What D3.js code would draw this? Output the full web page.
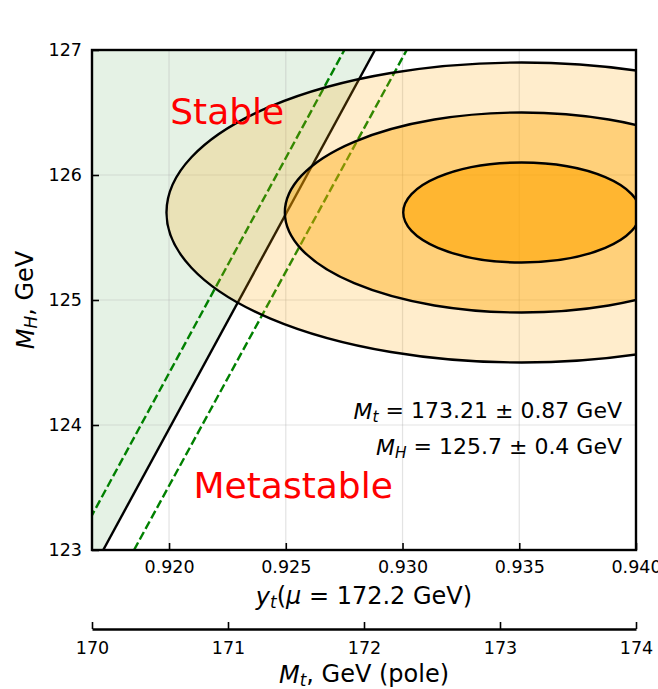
<!DOCTYPE html>
<html>
<head>
<meta charset="utf-8">
<script src="https://cdn.jsdelivr.net/npm/d3@7"></script>
<style>
  body { margin: 0; background: #fff; }
  text { font-family: "DejaVu Sans", sans-serif; }
</style>
</head>
<body>
<svg id="chart"></svg>
<script>
// data
const ytTicks = [0.920, 0.925, 0.930, 0.935, 0.940];
const mhTicks = [123, 124, 125, 126, 127];
const mtTicks = [170, 171, 172, 173, 174];

// stability boundary and its uncertainty band, as [yt, MH] end points
const boundary = [[0.91718, 123], [0.92882, 127]];
const boundaryLow = [[0.91589, 123], [0.92751, 127]];
const boundaryHigh = [[0.91850, 123], [0.93018, 127]];

// measured point and 1 sigma errors (in yt and MH)
const centre = { yt: 0.9351, mh: 125.7 };
const sigma = { yt: 0.00507, mh: 0.4 };
const nSigma = [3, 2, 1];
const sigmaAlpha = [0.2, 0.4, 0.6];

const width = 658;
const height = 689;
const margin = ({ top: 50, right: 22, bottom: 139, left: 92 });

const svg = d3.select("#chart")
    .attr("width", width)
    .attr("height", height);

// scales
let xScale = d3.scaleLinear()
    .domain([0.9167, 0.940])
    .range([margin.left, width - margin.right]);

let yScale = d3.scaleLinear()
    .domain([123, 127])
    .range([height - margin.bottom, margin.top]);

let mtScale = d3.scaleLinear()
    .domain([170, 174])
    .range([margin.left, width - margin.right]);

svg.append("clipPath").attr("id", "plotclip")
    .append("rect")
    .attr("x", margin.left).attr("y", margin.top)
    .attr("width", width - margin.left - margin.right)
    .attr("height", height - margin.top - margin.bottom);

const plot = svg.append("g").attr("clip-path", "url(#plotclip)");

// stable region, left of the boundary
const x0 = xScale.domain()[0];
plot.append("path")
    .attr("d", d3.line()([
        [xScale(x0), yScale(123)],
        [xScale(boundary[0][0]), yScale(boundary[0][1])],
        [xScale(boundary[1][0]), yScale(boundary[1][1])],
        [xScale(x0), yScale(127)]
    ]) + "Z")
    .attr("fill", "green")
    .attr("fill-opacity", 0.1);

// grid
plot.append("g")
    .selectAll("line")
    .data(ytTicks)
    .join("line")
    .attr("x1", d => xScale(d)).attr("x2", d => xScale(d))
    .attr("y1", margin.top).attr("y2", height - margin.bottom)
    .attr("stroke", "#b0b0b0").attr("stroke-opacity", 0.35).attr("stroke-width", 1.2);

plot.append("g")
    .selectAll("line")
    .data(mhTicks)
    .join("line")
    .attr("x1", margin.left).attr("x2", width - margin.right)
    .attr("y1", d => yScale(d)).attr("y2", d => yScale(d))
    .attr("stroke", "#b0b0b0").attr("stroke-opacity", 0.35).attr("stroke-width", 1.2);

const line = d3.line().x(d => xScale(d[0])).y(d => yScale(d[1]));

plot.append("path").attr("d", line(boundary))
    .attr("stroke", "black").attr("stroke-width", 2.4).attr("fill", "none");

plot.selectAll(".band")
    .data([boundaryLow, boundaryHigh])
    .join("path")
    .attr("d", d => line(d))
    .attr("stroke", "green").attr("stroke-width", 2.4)
    .attr("stroke-dasharray", "8.5,3.5").attr("fill", "none");

// sigma ellipses
plot.selectAll(".ell")
    .data(nSigma)
    .join("ellipse")
    .attr("cx", xScale(centre.yt))
    .attr("cy", yScale(centre.mh))
    .attr("rx", n => xScale(centre.yt + n * sigma.yt) - xScale(centre.yt))
    .attr("ry", n => yScale(centre.mh) - yScale(centre.mh + n * sigma.mh))
    .attr("fill", "orange")
    .attr("fill-opacity", (n, i) => sigmaAlpha[i])
    .attr("stroke", "black")
    .attr("stroke-width", 2.4);

// region labels
svg.append("text")
    .attr("x", xScale(0.92005)).attr("y", yScale(126.41))
    .attr("font-size", 36).attr("fill", "red")
    .text("Stable");

svg.append("text")
    .attr("x", xScale(0.92105)).attr("y", yScale(123.415))
    .attr("font-size", 36).attr("fill", "red")
    .text("Metastable");

// annotation
function mathText(g, parts) {
    parts.forEach(p => {
        const t = g.append("tspan").text(p.t);
        if (p.i) t.attr("font-style", "italic");
        if (p.sub) t.attr("font-size", "0.7em").attr("dy", "0.2em");
        if (p.up) t.attr("dy", "-0.2em");
    });
}

const ann1 = svg.append("text")
    .attr("x", 622).attr("y", 419)
    .attr("text-anchor", "end").attr("font-size", 22);
mathText(ann1, [
    { t: "M", i: true }, { t: "t", i: true, sub: true },
    { t: " = 173.21 ± 0.87 GeV", up: true }
]);

const ann2 = svg.append("text")
    .attr("x", 622).attr("y", 455)
    .attr("text-anchor", "end").attr("font-size", 22);
mathText(ann2, [
    { t: "M", i: true }, { t: "H", i: true, sub: true },
    { t: " = 125.7 ± 0.4 GeV", up: true }
]);

// axes
const xAxis = g => g
    .attr("transform", `translate(0,${height - margin.bottom})`)
    .call(d3.axisBottom(xScale).tickValues(ytTicks).tickFormat(d3.format(".3f"))
        .tickSizeInner(-7).tickSizeOuter(0).tickPadding(11))
    .call(g => g.select(".domain").remove());

const yAxis = g => g
    .attr("transform", `translate(${margin.left},0)`)
    .call(d3.axisLeft(yScale).tickValues(mhTicks).tickFormat(d3.format("d"))
        .tickSizeInner(-7).tickSizeOuter(0).tickPadding(10))
    .call(g => g.select(".domain").remove());

const mtY = 629;
const mtAxis = g => g
    .attr("transform", `translate(0,${mtY})`)
    .call(d3.axisBottom(mtScale).tickValues(mtTicks).tickFormat(d3.format("d"))
        .tickSizeInner(-7).tickSizeOuter(0).tickPadding(13));

[xAxis, yAxis, mtAxis].forEach(a => {
    const g = svg.append("g").call(a);
    g.selectAll("text").attr("font-size", 17.5).attr("fill", "black")
        .attr("font-family", "DejaVu Sans, sans-serif");
    g.selectAll("line").attr("stroke", "black").attr("stroke-width", 1.6);
    g.select(".domain").attr("stroke", "black").attr("stroke-width", 2.4);
});

// frame
svg.append("rect")
    .attr("x", margin.left).attr("y", margin.top)
    .attr("width", width - margin.left - margin.right)
    .attr("height", height - margin.top - margin.bottom)
    .attr("fill", "none").attr("stroke", "black").attr("stroke-width", 2.4);

// axis titles
const xt = svg.append("text")
    .attr("x", (margin.left + width - margin.right) / 2).attr("y", 605)
    .attr("text-anchor", "middle").attr("font-size", 24);
mathText(xt, [
    { t: "y", i: true }, { t: "t", i: true, sub: true },
    { t: "(", up: true }, { t: "μ", i: true }, { t: " = 172.2 GeV)" }
]);

const mt = svg.append("text")
    .attr("x", (margin.left + width - margin.right) / 2).attr("y", 683)
    .attr("text-anchor", "middle").attr("font-size", 24);
mathText(mt, [
    { t: "M", i: true }, { t: "t", i: true, sub: true },
    { t: ", GeV (pole)", up: true }
]);

const yt = svg.append("text")
    .attr("transform", `translate(34,${(margin.top + height - margin.bottom) / 2}) rotate(-90)`)
    .attr("text-anchor", "middle").attr("font-size", 24);
mathText(yt, [
    { t: "M", i: true }, { t: "H", i: true, sub: true },
    { t: ", GeV", up: true }
]);
</script>
</body>
</html>
